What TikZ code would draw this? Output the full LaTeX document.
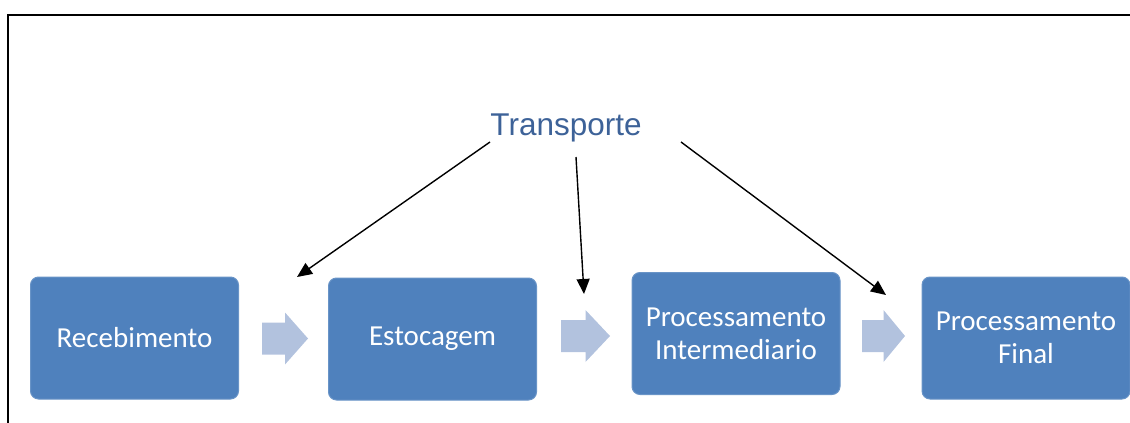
\documentclass[tikz,border=0pt]{standalone}
\usepackage{fontspec}
\setmainfont{Carlito}
\newfontfamily\arialfont{Liberation Sans}
\usetikzlibrary{arrows.meta,calc,positioning}

\definecolor{caixa}{HTML}{4F81BD}
\definecolor{setacor}{HTML}{B2C2DE}
\definecolor{titulo}{HTML}{3D6298}

\begin{document}
\begin{tikzpicture}[x=1pt,y=-1pt,
  etapa/.style={fill=caixa,draw=caixa!85!white,line width=1pt,rounded corners=8pt,
    text=white,font=\fontsize{29}{33}\selectfont,align=center,
    minimum width=208pt,minimum height=122pt,inner sep=0pt},
  seta/.style={fill=setacor},
  liga/.style={-{Triangle[length=15pt,width=13pt]},line width=1.4pt}]
  \useasboundingbox (0,0) rectangle (1130,423);
  % moldura
  \draw[line width=2.2pt] (8,423) -- (8,15) -- (1130,15);
  % etapas
  \node[etapa] (rec) at (134.5,338) {Recebimento};
  \node[etapa] (est) at (432.5,339) {Estocagem};
  \node[etapa] (int) at (736,333.5) {Processamento\\Intermediario};
  \node[etapa] (fin) at (1026,338) {Processamento\\Final};
  % setas largas
  \foreach \x/\y/\w in {262/338.5/46, 561/336/49, 862/336/43}
    \fill[seta] (\x,\y-16) -- (\x+\w/2,\y-16) -- (\x+\w/2,\y-26) -- (\x+\w,\y)
      -- (\x+\w/2,\y+26) -- (\x+\w/2,\y+16) -- (\x,\y+16) -- cycle;
  % transporte
  \node[text=titulo,font=\arialfont\fontsize{31.5}{36}\selectfont] (tr) at (566,128) {Transporte};
  \coordinate (t1) at (490,142);
  \coordinate (t2) at (576,157);
  \coordinate (t3) at (681,142);
  \coordinate (a1) at (297,277);
  \coordinate (a2) at (584,294);
  \coordinate (a3) at (886,295);
  \draw[liga] (t1) -- (a1);
  \draw[liga] (t2) -- (a2);
  \draw[liga] (t3) -- (a3);
\end{tikzpicture}
\end{document}
